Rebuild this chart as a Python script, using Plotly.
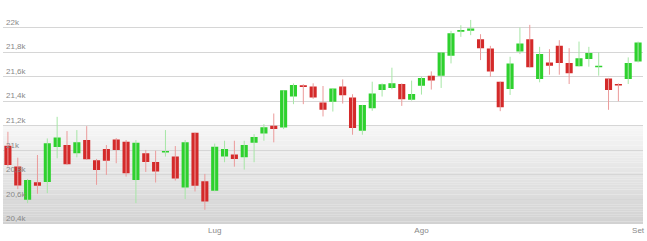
import pandas as pd
import plotly.graph_objects as go

# Trading days (Jun 2 2017 - Sep 1 2017, Borsa closed Aug 15)
dates = [d.strftime("%Y-%m-%d") for d in pd.bdate_range("2017-06-02", "2017-09-01") if d.strftime("%m-%d") != "08-15"]

open_ = [21038, 20868, 20597, 20740, 20743, 21027, 21043, 20976, 21084, 20920,
         21011, 21089, 21070, 20759, 20976, 20905, 20982, 20949, 20697, 21143,
         20749, 20671, 20949, 20967, 20943, 21062, 21138, 21200, 21186, 21438,
         21530, 21519, 21389, 21395, 21519, 21430, 21159, 21343, 21492, 21508,
         21540, 21411, 21527, 21608, 21608, 21770, 21965, 21973, 21905, 21830,
         21559, 21500, 21805, 21905, 21581, 21716, 21851, 21711, 21684, 21743,
         21676, 21586, 21540, 21581, 21724]
high = [21151, 20940, 20767, 20962, 21097, 21273, 21157, 21165, 21197, 20930,
        21043, 21100, 21084, 21084, 21003, 20997, 21165, 21035, 21084, 21143,
        20808, 21055, 21078, 21078, 21078, 21132, 21213, 21300, 21489, 21545,
        21538, 21546, 21524, 21503, 21578, 21457, 21370, 21559, 21545, 21673,
        21545, 21568, 21600, 21643, 21797, 21973, 22019, 22062, 21946, 21851,
        21559, 21762, 22000, 22022, 21843, 21824, 21897, 21832, 21886, 21843,
        21797, 21590, 21545, 21757, 21886]
low = [20868, 20684, 20570, 20646, 20651, 20935, 20881, 20943, 20922, 20719,
       20800, 20895, 20786, 20570, 20824, 20738, 20949, 20754, 20603, 20665,
       20516, 20667, 20903, 20867, 20843, 20903, 21078, 21065, 21173, 21376,
       21376, 21420, 21276, 21316, 21381, 21127, 21127, 21322, 21438, 21497,
       21362, 21405, 21454, 21495, 21508, 21708, 21924, 21938, 21735, 21600,
       21319, 21451, 21784, 21676, 21554, 21616, 21616, 21540, 21684, 21681,
       21608, 21330, 21400, 21540, 21716]
close = [20881, 20713, 20759, 20711, 21057, 21105, 20886, 21065, 20927, 20839,
         20916, 21003, 20813, 21062, 20905, 20827, 20994, 20770, 21065, 20711,
         20584, 21030, 21011, 20930, 21043, 21108, 21189, 21173, 21489, 21532,
         21516, 21430, 21330, 21503, 21449, 21181, 21370, 21462, 21538, 21546,
         21416, 21459, 21589, 21568, 21797, 21954, 21981, 21992, 21832, 21643,
         21351, 21708, 21870, 21676, 21784, 21689, 21711, 21627, 21751, 21792,
         21688, 21492, 21528, 21711, 21878]

month_ticks = ["2017-07-03", "2017-08-01", "2017-09-01"]
month_labels = ["Lug", "Ago", "Set"]
y_ticks = [20400, 20600, 20800, 21000, 21200, 21400, 21600, 21800, 22000, 22200]
y_labels = ["20,4k", "20,6k", "20,8k", "21k", "21,2k", "21,4k", "21,6k", "21,8k", "22k", ""]

UP = "#2ed12e"
DOWN = "#d42a2a"
UP_WICK = "#a6e6a6"
DOWN_WICK = "#eb9a9a"

fig = go.Figure()

# wicks
for up in (True, False):
    xs, ys = [], []
    for d, o, h, l, c in zip(dates, open_, high, low, close):
        if (c >= o) == up:
            xs += [d, d, None]
            ys += [l, h, None]
    fig.add_trace(go.Scatter(x=xs, y=ys, mode="lines",
                             line=dict(color=UP_WICK if up else DOWN_WICK, width=1),
                             hoverinfo="skip", showlegend=False))

fig.add_trace(go.Candlestick(
    x=dates, open=open_, high=high, low=low, close=close,
    increasing=dict(fillcolor=UP, line=dict(color=UP, width=0)),
    decreasing=dict(fillcolor=DOWN, line=dict(color=DOWN, width=0)),
    whiskerwidth=0, showlegend=False,
))

# gray gradient band in the lower part of the plot
n = 40
lo, hi = 20400, 21200
for i in range(n):
    y0 = lo + (hi - lo) * i / n
    y1 = lo + (hi - lo) * (i + 1) / n
    t = i / (n - 1)
    g = int(round(210 + (246 - 210) * t))
    fig.add_shape(type="rect", xref="paper", yref="y", x0=0, x1=1, y0=y0, y1=y1,
                  fillcolor=f"rgb({g},{g},{g})", line=dict(width=0), layer="below")

fig.update_layout(
    width=647, height=241,
    margin=dict(l=3, r=4, t=3, b=17),
    paper_bgcolor="white", plot_bgcolor="white",
    boxgap=0.28, boxgroupgap=0,
    font=dict(family="Liberation Sans, Arial, sans-serif", size=8, color="#888888"),
    xaxis=dict(type="category", categoryorder="array", categoryarray=dates,
               range=[-0.5, len(dates) - 0.5],
               tickmode="array", tickvals=month_ticks, ticktext=month_labels,
               showgrid=False, zeroline=False, showline=False, ticks="",
               rangeslider=dict(visible=False), tickfont=dict(size=8, color="#888888")),
    yaxis=dict(range=[20400, 22200], tickmode="array", tickvals=y_ticks, ticktext=y_labels,
               showgrid=True, gridcolor="#d6d6d6", gridwidth=1, zeroline=False,
               ticklabelposition="inside top", ticks="", showline=False,
               tickfont=dict(size=8, color="#888888")),
)

fig.write_html("out.html")
